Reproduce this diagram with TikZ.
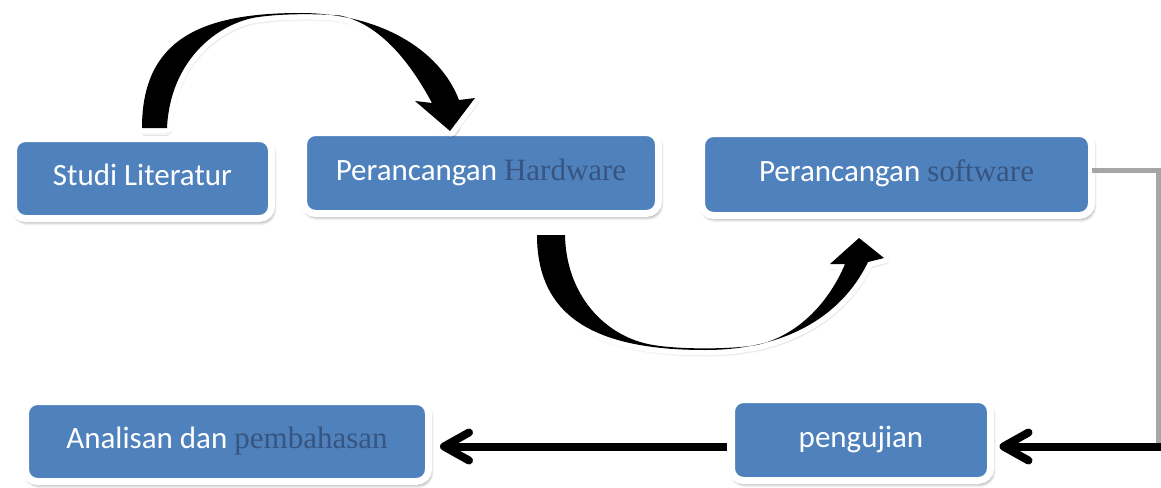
\documentclass[tikz,border=0pt]{standalone}
\usepackage{fontspec}
\newfontfamily\carl{Carlito}
\newfontfamily\tms{Liberation Serif}
\usetikzlibrary{arrows.meta,shadows.blur}
\definecolor{boxblue}{HTML}{4F81BD}
\definecolor{serifblue}{HTML}{375580}
\newcommand\toparrowpath{(142,128) .. controls (142,40) and (200,13) .. (300,13)
  .. controls (380,13) and (440,50) .. (459,100)
  -- (475,98) -- (450,131) -- (415,101) -- (432,103)
  .. controls (410,62) and (380,24) .. (340,15.5)
  .. controls (315,13.5) and (280,13.5) .. (255,17.5)
  .. controls (215,25) and (170,62) .. (167,128) -- cycle}
\newcommand\botarrowpath{(537,235) .. controls (537,320) and (600,350) .. (705,350)
  .. controls (780,350) and (840,320) .. (868,262)
  -- (884,258) -- (859,238) -- (830,264) -- (845,264)
  .. controls (830,300) and (800,335) .. (757,345)
  .. controls (730,349.5) and (680,349.5) .. (653,345)
  .. controls (605,337) and (566,295) .. (565,235) -- cycle}
\begin{document}
\begin{tikzpicture}[x=1pt,y=-1pt,
  stepbox/.style={draw=white, line width=7pt, fill=boxblue, rounded corners=12pt,
    text=white, font=\carl\fontsize{31}{36}\selectfont, inner sep=0pt, outer sep=0pt,
    text height=22pt, text depth=8pt,
    blur shadow={shadow xshift=1.5pt, shadow yshift=-3pt, shadow opacity=55, shadow blur steps=8, shadow blur radius=4pt}},
  flow/.style={line width=8pt, draw=black, -{Straight Barb[length=25pt,width=28pt,round]}},
  elbow/.style={line width=5pt, draw=black!35},
  arrowoutline/.style={fill=white, draw=white, line width=11pt, line join=round,
    blur shadow={shadow xshift=1.5pt, shadow yshift=-3pt, shadow opacity=60, shadow blur steps=8, shadow blur radius=4pt}},
  arrowbody/.style={fill=black}
]
\useasboundingbox (0,0) rectangle (1161,487);

\node[stepbox, minimum width=258pt, minimum height=80pt] (studi) at (142.5,178.5) {Studi Literatur};
\node[stepbox, minimum width=355pt, minimum height=81pt] (hw) at (481,173) {Perancangan {\tms\color{serifblue}Hardware}};
\node[stepbox, minimum width=390pt, minimum height=82pt] (sw) at (896.5,174.5) {Perancangan {\tms\color{serifblue}software}};
\node[stepbox, minimum width=403pt, minimum height=80pt] (an) at (227,441.5) {Analisan dan {\tms\color{serifblue}pembahasan}};
\node[stepbox, minimum width=259pt, minimum height=81pt] (uj) at (861,440) {pengujian};

\coordinate (c1) at (1158.5,170);
\coordinate (c2) at (1158.5,443);
\coordinate (c3) at (1165,446.5);

\draw[elbow] ([yshift=4.5pt]sw.east) -- (c1) -- (c2);
\draw[flow, shorten >=9pt] (c3) -- (uj.east |- c3);
\draw[flow, shorten <=5pt, shorten >=11.5pt] (uj.west |- c3) -- (an.east |- c3);

\path[arrowoutline] \toparrowpath;
\path[arrowbody] \toparrowpath;
\path[arrowoutline] \botarrowpath;
\path[arrowbody] \botarrowpath;
\end{tikzpicture}
\end{document}
